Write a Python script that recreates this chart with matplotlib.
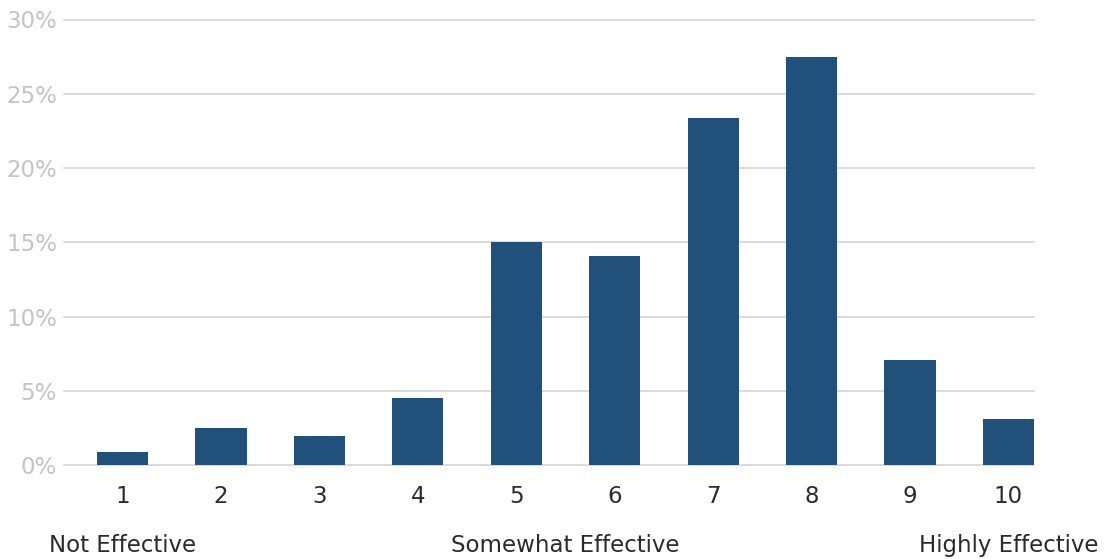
import matplotlib
matplotlib.use("Agg")
import matplotlib.pyplot as plt
import matplotlib.transforms as mtransforms
from matplotlib.ticker import FuncFormatter

# survey scores 1..10 and share of answers (%)
scores = [1, 2, 3, 4, 5, 6, 7, 8, 9, 10]
share = [0.9, 2.5, 2.0, 4.5, 15.0, 14.1, 23.4, 27.5, 7.1, 3.1]
scale_labels = ["Not Effective", "Somewhat Effective", "Highly Effective"]
scale_pos = [1, 5.5, 10]

plt.rcParams['font.family'] = ['DejaVu Sans']

fig = plt.figure(figsize=(11.09, 5.59), dpi=100)
ax = fig.add_axes([64/1109, 93.7/559, 970/1109, 445.8/559])

ax.bar(scores, share, width=0.52, color='#21507a', zorder=3)

ax.set_xlim(0.405, 10.26)
ax.set_ylim(0, 30)
ax.set_yticks(range(0, 31, 5))
ax.yaxis.set_major_formatter(FuncFormatter(lambda v, p: f"{v:.0f}%"))
ax.set_xticks(scores)
ax.set_xticklabels([str(s) for s in scores])

ax.grid(axis='y', color='#d4d4d4', linewidth=1.2, zorder=0)
for line in ax.get_ygridlines():
    line.set_clip_on(False)
for s in ax.spines.values():
    s.set_visible(False)
ax.tick_params(axis='both', length=0)
ax.tick_params(axis='y', labelsize=16.5, labelcolor='#c4c4c4', pad=5)
ax.tick_params(axis='x', labelsize=16.5, labelcolor='#2b2b2b', pad=14)

trans = mtransforms.blended_transform_factory(ax.transData, ax.transAxes)
for lab, x in zip(scale_labels, scale_pos):
    ax.text(x, -0.179, lab, transform=trans, ha='center', va='center',
            fontsize=16.5, color='#2b2b2b')

fig.savefig("out.png", dpi=100)
